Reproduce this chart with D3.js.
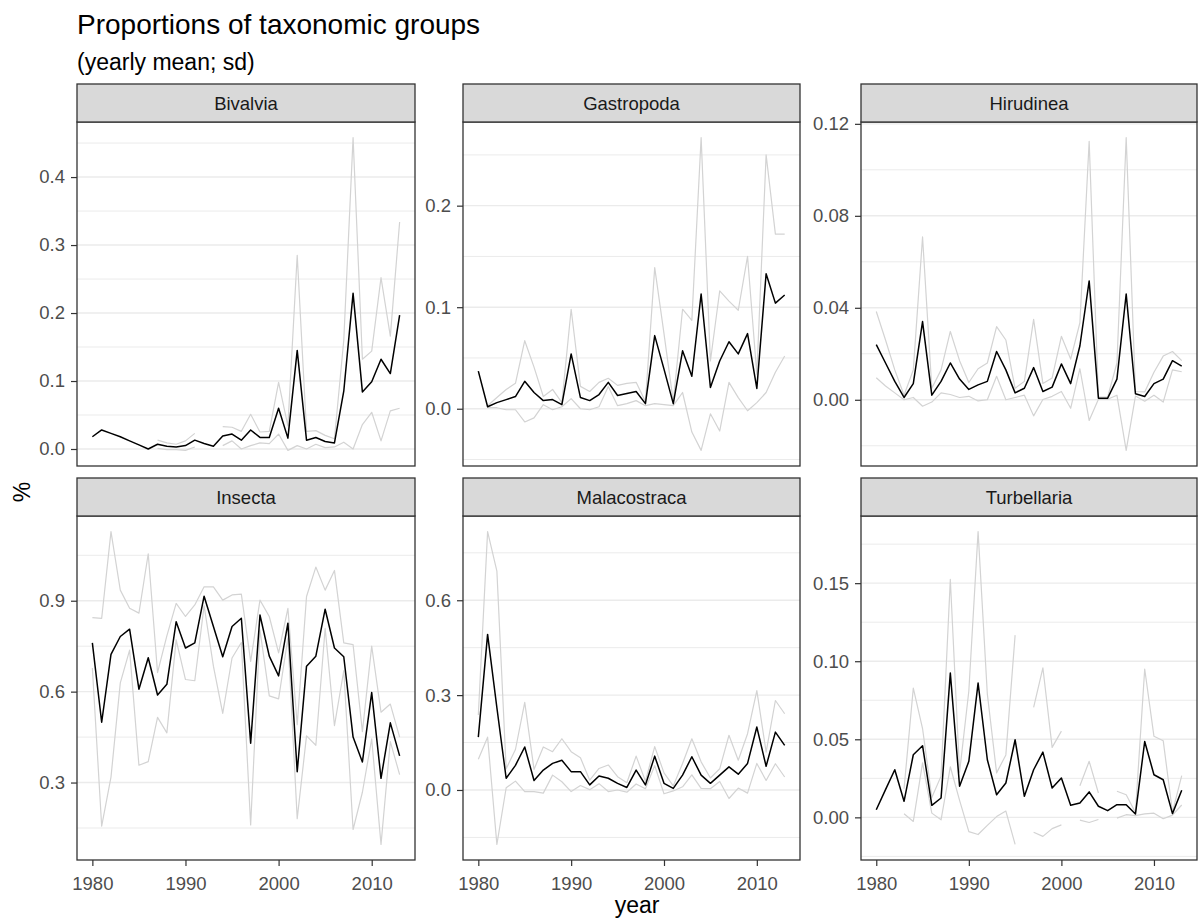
<!DOCTYPE html>
<html>
<head>
<meta charset="utf-8">
<script src="https://cdn.jsdelivr.net/npm/d3@7"></script>
<style>
    body { margin: 0; background: #ffffff; }
    text { font-family: "Liberation Sans", Arial, sans-serif; }
</style>
</head>
<body>
<div id="wrapper"></div>
<script>
// Years on the x axis
const years = [1980, 1981, 1982, 1983, 1984, 1985, 1986, 1987, 1988, 1989,
               1990, 1991, 1992, 1993, 1994, 1995, 1996, 1997, 1998, 1999,
               2000, 2001, 2002, 2003, 2004, 2005, 2006, 2007, 2008, 2009,
               2010, 2011, 2012, 2013];
const xTicks = [1980, 1990, 2000, 2010];

const groups = ["Bivalvia", "Gastropoda", "Hirudinea", "Insecta", "Malacostraca", "Turbellaria"];

// yearly mean and sd per group (null = no sd for that year)
const bivalviaMean = [0.018, 0.028, 0.023, 0.018, 0.012, 0.006, 0.000, 0.007, 0.004, 0.003,
                      0.005, 0.013, 0.008, 0.004, 0.019, 0.022, 0.013, 0.028, 0.017, 0.017,
                      0.060, 0.016, 0.145, 0.013, 0.017, 0.011, 0.009, 0.085, 0.229, 0.084,
                      0.099, 0.132, 0.111, 0.197];
const bivalviaSd = [null, null, null, null, null, null, null, 0.006, 0.005, 0.004,
                    0.007, 0.010, null, null, 0.014, 0.010, 0.013, 0.023, 0.008, 0.009,
                    0.038, 0.018, 0.140, 0.013, 0.010, 0.009, 0.006, 0.075, 0.229, 0.048,
                    0.045, 0.120, 0.055, 0.137];

const gastropodaMean = [0.037, 0.002, 0.006, 0.009, 0.012, 0.027, 0.016, 0.008, 0.009, 0.004,
                        0.054, 0.011, 0.008, 0.014, 0.026, 0.013, 0.015, 0.017, 0.005, 0.072,
                        0.039, 0.005, 0.057, 0.032, 0.113, 0.021, 0.047, 0.066, 0.054, 0.074,
                        0.020, 0.133, 0.104, 0.112];
const gastropodaSd = [null, 0.001, 0.005, 0.010, 0.013, 0.040, 0.025, 0.004, 0.010, 0.002,
                      0.044, 0.011, 0.009, 0.012, 0.004, 0.010, 0.010, 0.009, 0.002, 0.067,
                      0.035, 0.002, 0.041, 0.055, 0.154, 0.026, 0.069, 0.040, 0.043, 0.076,
                      0.014, 0.117, 0.068, 0.060];

const hirudineaMean = [0.024, 0.016, 0.008, 0.001, 0.007, 0.034, 0.002, 0.008, 0.016, 0.009,
                       0.0045, 0.0065, 0.008, 0.021, 0.013, 0.003, 0.005, 0.014, 0.0036, 0.0055,
                       0.0156, 0.007, 0.0235, 0.0517, 0.0007, 0.0007, 0.009, 0.046, 0.0026, 0.0014,
                       0.007, 0.009, 0.017, 0.0146];
const hirudineaSd = [0.0144, 0.010, 0.005, 0.001, 0.006, 0.0368, 0.003, 0.005, 0.0137, 0.008,
                     0.003, 0.007, 0.008, 0.0108, 0.013, 0.002, 0.003, 0.021, 0.0035, 0.004,
                     0.012, 0.0107, 0.010, 0.0607, 0.0005, 0.0005, 0.007, 0.068, 0.001, 0.002,
                     0.005, 0.010, 0.004, 0.0024];

const insectaMean = [0.761, 0.499, 0.723, 0.782, 0.806, 0.608, 0.712, 0.589, 0.624, 0.831,
                     0.744, 0.761, 0.915, 0.815, 0.715, 0.815, 0.842, 0.430, 0.853, 0.717,
                     0.652, 0.826, 0.336, 0.684, 0.717, 0.872, 0.744, 0.715, 0.450, 0.368,
                     0.597, 0.314, 0.497, 0.388];
const insectaSd = [0.083, 0.343, 0.405, 0.153, 0.069, 0.251, 0.343, 0.074, 0.160, 0.060,
                   0.104, 0.125, 0.031, 0.131, 0.187, 0.104, 0.080, 0.270, 0.049, 0.131,
                   0.076, 0.049, 0.155, 0.230, 0.294, 0.063, 0.256, 0.046, 0.305, 0.100,
                   0.153, 0.218, 0.062, 0.062];

const malacostracaMean = [0.167, 0.492, 0.260, 0.037, 0.078, 0.136, 0.030, 0.063, 0.084, 0.094,
                          0.058, 0.058, 0.016, 0.044, 0.037, 0.021, 0.008, 0.063, 0.016, 0.107,
                          0.021, 0.005, 0.047, 0.105, 0.047, 0.021, 0.047, 0.073, 0.050, 0.084,
                          0.199, 0.075, 0.183, 0.141];
const malacostracaSd = [0.070, 0.325, 0.432, 0.030, 0.050, 0.141, 0.035, 0.073, 0.037, 0.068,
                        0.063, 0.044, 0.015, 0.024, 0.042, 0.021, 0.015, 0.044, 0.012, 0.030,
                        0.033, 0.008, 0.037, 0.057, 0.042, 0.017, 0.020, 0.100, 0.044, 0.094,
                        0.115, 0.045, 0.100, 0.100];

const turbellariaMean = [0.0049, 0.0178, 0.0305, 0.0103, 0.0401, 0.0459, 0.0077, 0.0124, 0.0924, 0.0199,
                         0.0359, 0.0860, 0.0369, 0.0145, 0.0220, 0.0497, 0.0135, 0.0305, 0.0418, 0.0188,
                         0.0252, 0.0077, 0.0092, 0.0163, 0.0071, 0.0043, 0.0081, 0.0081, 0.0021, 0.0486,
                         0.0273, 0.0241, 0.0024, 0.0173];
const turbellariaSd = [null, null, null, 0.008, 0.0427, 0.011, 0.005, 0.014, 0.060, 0.009,
                       0.045, 0.097, 0.042, 0.014, 0.018, 0.067, null, 0.040, 0.054, 0.026,
                       0.030, null, 0.011, 0.0196, 0.0085, null, 0.0086, 0.0064, 0.001, 0.0464,
                       0.0246, 0.025, 0.001, 0.0094];

// y tick labels per panel
const bivalviaTicks = ["0.0", "0.1", "0.2", "0.3", "0.4"];
const gastropodaTicks = ["0.0", "0.1", "0.2"];
const hirudineaTicks = ["0.00", "0.04", "0.08", "0.12"];
const insectaTicks = ["0.3", "0.6", "0.9"];
const malacostracaTicks = ["0.0", "0.3", "0.6"];
const turbellariaTicks = ["0.00", "0.05", "0.10", "0.15"];

const means = [bivalviaMean, gastropodaMean, hirudineaMean, insectaMean, malacostracaMean, turbellariaMean];
const sds = [bivalviaSd, gastropodaSd, hirudineaSd, insectaSd, malacostracaSd, turbellariaSd];
const yTicks = [bivalviaTicks, gastropodaTicks, hirudineaTicks, insectaTicks, malacostracaTicks, turbellariaTicks];

function buildPlot() {
    const dimension = {
        width: 1198,
        height: 919,
        cols: [[77, 415], [463, 800], [861, 1197]],
        rows: [84, 478],      // top of the strips
        stripHeight: 38,
        panelHeight: 344,
    };

    const wrapper = d3.select("#wrapper")
        .append("svg")
        .attr("width", dimension.width)
        .attr("height", dimension.height);

    // Title and subtitle
    wrapper.append("text")
        .attr("x", 77).attr("y", 34)
        .attr("font-size", 28)
        .attr("fill", "#000")
        .text("Proportions of taxonomic groups");
    wrapper.append("text")
        .attr("x", 77).attr("y", 70)
        .attr("font-size", 23)
        .attr("fill", "#000")
        .text("(yearly mean; sd)");

    // shared x scale domain (ggplot adds 5% on each side)
    const xPad = (d3.max(years) - d3.min(years)) * 0.05;

    groups.forEach((name, i) => {
        const col = i % 3;
        const row = Math.floor(i / 3);
        const left = dimension.cols[col][0];
        const right = dimension.cols[col][1];
        const stripTop = dimension.rows[row];
        const top = stripTop + dimension.stripHeight;
        const bottom = top + dimension.panelHeight;

        const data = years.map((y, k) => ({
            year: y,
            mean: means[i][k],
            sd: sds[i][k],
        }));

        const xScaler = d3.scaleLinear()
            .domain([d3.min(years) - xPad, d3.max(years) + xPad])
            .range([left, right]);

        // y range from mean - sd to mean + sd, padded 5%
        const lo = d3.min(data, d => d.sd === null ? d.mean : Math.min(d.mean, d.mean - d.sd));
        const hi = d3.max(data, d => d.sd === null ? d.mean : d.mean + d.sd);
        const yPad = (hi - lo) * 0.05;
        const yScaler = d3.scaleLinear()
            .domain([lo - yPad, hi + yPad])
            .range([bottom, top]);

        const bounds = wrapper.append("g");

        // gridlines: minor ones halfway between the major ones
        const major = yTicks[i].map(Number);
        const step = major[1] - major[0];
        const minor = d3.range(major.length + 1).map(k => major[0] - step / 2 + k * step)
            .filter(v => v > yScaler.domain()[0] && v < yScaler.domain()[1]);

        bounds.selectAll(".minor")
            .data(minor)
            .join("line")
            .attr("x1", left).attr("x2", right)
            .attr("y1", d => yScaler(d)).attr("y2", d => yScaler(d))
            .attr("stroke", "#ebebeb")
            .attr("stroke-width", 1);
        bounds.selectAll(".major")
            .data(major)
            .join("line")
            .attr("x1", left).attr("x2", right)
            .attr("y1", d => yScaler(d)).attr("y2", d => yScaler(d))
            .attr("stroke", "#ebebeb")
            .attr("stroke-width", 1.4);

        // mean +/- sd lines in light grey
        const upperLine = d3.line()
            .defined(d => d.sd !== null)
            .x(d => xScaler(d.year))
            .y(d => yScaler(d.mean + d.sd));
        const lowerLine = d3.line()
            .defined(d => d.sd !== null)
            .x(d => xScaler(d.year))
            .y(d => yScaler(d.mean - d.sd));
        const meanLine = d3.line()
            .x(d => xScaler(d.year))
            .y(d => yScaler(d.mean));

        [upperLine, lowerLine].forEach(gen => {
            bounds.append("path")
                .attr("fill", "none")
                .attr("stroke", "#d3d3d3")
                .attr("stroke-width", 1.2)
                .attr("stroke-linejoin", "round")
                .attr("d", gen(data));
        });

        bounds.append("path")
            .attr("fill", "none")
            .attr("stroke", "#000")
            .attr("stroke-width", 1.5)
            .attr("stroke-linejoin", "round")
            .attr("d", meanLine(data));

        // panel border
        bounds.append("rect")
            .attr("x", left).attr("y", top)
            .attr("width", right - left).attr("height", bottom - top)
            .attr("fill", "none")
            .attr("stroke", "#333333")
            .attr("stroke-width", 1.3);

        // strip with the group name
        bounds.append("rect")
            .attr("x", left).attr("y", stripTop)
            .attr("width", right - left).attr("height", dimension.stripHeight)
            .attr("fill", "#d9d9d9")
            .attr("stroke", "#333333")
            .attr("stroke-width", 1.3);
        bounds.append("text")
            .attr("x", (left + right) / 2)
            .attr("y", stripTop + dimension.stripHeight / 2 + 7)
            .attr("text-anchor", "middle")
            .attr("font-size", 18.5)
            .attr("fill", "#1a1a1a")
            .text(name);

        // y axis
        const yAxis = bounds.append("g")
            .attr("transform", `translate(${left},0)`)
            .call(d3.axisLeft(yScaler)
                .tickValues(major)
                .tickFormat((d, k) => yTicks[i][k])
                .tickSize(6)
                .tickPadding(6));
        yAxis.select(".domain").remove();
        yAxis.selectAll(".tick line").attr("stroke", "#333333").attr("stroke-width", 1.2);
        yAxis.selectAll(".tick text")
            .attr("font-size", 18.5)
            .attr("font-family", "\"Liberation Sans\", Arial, sans-serif")
            .attr("fill", "#4d4d4d");

        // x axis only under the bottom row
        if (row === 1) {
            const xAxis = bounds.append("g")
                .attr("transform", `translate(0,${bottom})`)
                .call(d3.axisBottom(xScaler)
                    .tickValues(xTicks)
                    .tickFormat(d3.format("d"))
                    .tickSize(6)
                    .tickPadding(11));
            xAxis.select(".domain").remove();
            xAxis.selectAll(".tick line").attr("stroke", "#333333").attr("stroke-width", 1.2);
            xAxis.selectAll(".tick text")
                .attr("font-size", 18.5)
                .attr("font-family", "\"Liberation Sans\", Arial, sans-serif")
                .attr("fill", "#4d4d4d");
        }
    });

    // axis titles
    wrapper.append("text")
        .attr("x", (dimension.cols[0][0] + dimension.cols[2][1]) / 2)
        .attr("y", 913)
        .attr("text-anchor", "middle")
        .attr("font-size", 23)
        .attr("fill", "#000")
        .text("year");
    wrapper.append("text")
        .attr("transform", "translate(30,492) rotate(-90)")
        .attr("text-anchor", "middle")
        .attr("font-size", 23)
        .attr("fill", "#000")
        .text("%");
}

buildPlot();
</script>
</body>
</html>
